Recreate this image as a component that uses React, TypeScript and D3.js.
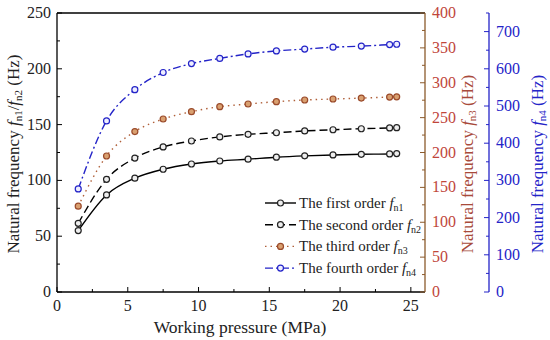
import React from 'react';
import * as d3 from 'd3';

const pressure = [1.5, 3.5, 5.5, 7.5, 9.5, 11.5, 13.5, 15.5, 17.5, 19.5, 21.5, 23.5, 24];
const fn1 = [55, 87, 102, 110, 114.7, 117.4, 119, 120.8, 122, 122.8, 123.4, 123.7, 124];
const fn2 = [61.5, 101, 120, 130, 135.3, 139, 141.3, 142.7, 144.3, 145.4, 146.3, 147, 147.2];
const fn3 = [123, 195, 230, 248, 258.5, 265.7, 269.5, 272.9, 275.3, 276.7, 278, 279.5, 279.8];
const fn4 = [277, 460, 544, 590, 614, 628, 640, 648, 653, 658, 661, 665, 666];

const xTicks = [0, 5, 10, 15, 20, 25];
const leftTicks = [0, 50, 100, 150, 200, 250];
const redTicks = [0, 50, 100, 150, 200, 250, 300, 350, 400];
const blueTicks = [0, 100, 200, 300, 400, 500, 600, 700];

const FONT = 'Liberation Serif, DejaVu Serif, serif';
const RED_AXIS = '#8b5a2b';
const RED = '#c0463a';
const BLUE = '#2424c8';

const L = 57, R = 425, T = 13, B = 292, BLUE_X = 489;

export default function App() {
  const x = d3.scaleLinear().domain([0, 26]).range([L, R]);
  const yL = d3.scaleLinear().domain([0, 250]).range([B, T]);
  const yR = d3.scaleLinear().domain([0, 400]).range([B, T]);
  const yB = d3.scaleLinear().domain([0, 750]).range([B, T]);

  const mk = (ys: number[], s: d3.ScaleLinear<number, number>) =>
    d3.line<number>().x((_, i) => x(pressure[i])).y(d => s(d)).curve(d3.curveMonotoneX)(ys) || '';

  const series = [
    { vals: fn1, s: yL, stroke: '#000', dash: '', mStroke: '#222', mFill: '#eee', label: '1', name: 'The first order ' },
    { vals: fn2, s: yL, stroke: '#000', dash: '8,4', mStroke: '#222', mFill: '#eee', label: '2', name: 'The second order ' },
    { vals: fn3, s: yR, stroke: '#b0603a', dash: '1.5,4', mStroke: '#9a4a2a', mFill: '#d9a070', label: '3', name: 'The third order ' },
    { vals: fn4, s: yB, stroke: BLUE, dash: '8,3,2,3', mStroke: BLUE, mFill: '#eef', label: '4', name: 'The fourth order ' },
  ];

  const minorX = d3.range(0, 26, 2.5);
  const minorL = d3.range(0, 251, 25);
  const minorR = d3.range(0, 401, 25);
  const minorB = d3.range(0, 751, 50);

  return (
    <svg width={550} height={340} style={{ position: 'absolute', left: 0, top: 0, background: '#fff', fontFamily: FONT }}>
      {/* frame */}
      <line x1={L} x2={R} y1={T} y2={T} stroke="#000" strokeWidth={1.3} />
      <line x1={L} x2={R} y1={B} y2={B} stroke="#000" strokeWidth={1.3} />
      <line x1={L} x2={L} y1={T} y2={B} stroke="#000" strokeWidth={1.3} />
      <line x1={R} x2={R} y1={T} y2={B} stroke={RED_AXIS} strokeWidth={1.3} />
      <line x1={BLUE_X} x2={BLUE_X} y1={T} y2={B} stroke={BLUE} strokeWidth={1.3} />

      {/* bottom axis */}
      {minorX.map(v => (
        <line key={'mx' + v} x1={x(v)} x2={x(v)} y1={B} y2={B - (v % 5 === 0 ? 5 : 3)} stroke="#000" strokeWidth={1} />
      ))}
      {xTicks.map(v => (
        <text key={'xt' + v} x={x(v)} y={B + 19} fontSize={16} textAnchor="middle" fill="#222">{v}</text>
      ))}
      <text x={240} y={333} fontSize={17.5} textAnchor="middle" fill="#222">Working pressure (MPa)</text>

      {/* left axis */}
      {minorL.map(v => (
        <line key={'ml' + v} x1={L} x2={L + (v % 50 === 0 ? 5 : 3)} y1={yL(v)} y2={yL(v)} stroke="#000" strokeWidth={1} />
      ))}
      {leftTicks.map(v => (
        <text key={'lt' + v} x={L - 6} y={yL(v) + 5} fontSize={16} textAnchor="end" fill="#222">{v}</text>
      ))}
      <text transform={`translate(19,${154}) rotate(-90)`} fontSize={17} textAnchor="middle" fill="#222">
        Natural frequency <tspan fontStyle="italic">f</tspan><tspan fontSize={11} dy={3}>n1</tspan>
        <tspan dy={-3}>/</tspan><tspan fontStyle="italic">f</tspan><tspan fontSize={11} dy={3}>n2</tspan>
        <tspan dy={-3}> (Hz)</tspan>
      </text>

      {/* red axis */}
      {minorR.map(v => (
        <line key={'mr' + v} x1={R} x2={R - (v % 50 === 0 ? 5 : 3)} y1={yR(v)} y2={yR(v)} stroke={RED_AXIS} strokeWidth={1} />
      ))}
      {redTicks.map(v => (
        <text key={'rt' + v} x={R + 7} y={yR(v) + 5} fontSize={16} textAnchor="start" fill={RED}>{v}</text>
      ))}
      <text transform={`translate(473,${164}) rotate(-90)`} fontSize={17} textAnchor="middle" fill="#a84a3a">
        Natural frequency <tspan fontStyle="italic">f</tspan><tspan fontSize={11} dy={3}>n3</tspan>
        <tspan dy={-3}> (Hz)</tspan>
      </text>

      {/* blue axis */}
      {minorB.map(v => (
        <line key={'mb' + v} x1={BLUE_X} x2={BLUE_X - (v % 100 === 0 ? 5 : 3)} y1={yB(v)} y2={yB(v)} stroke={BLUE} strokeWidth={1} />
      ))}
      {blueTicks.map(v => (
        <text key={'bt' + v} x={BLUE_X + 7} y={yB(v) + 5} fontSize={16} textAnchor="start" fill={BLUE}>{v}</text>
      ))}
      <text transform={`translate(543,${164}) rotate(-90)`} fontSize={17} textAnchor="middle" fill={BLUE}>
        Natural frequency <tspan fontStyle="italic">f</tspan><tspan fontSize={11} dy={3}>n4</tspan>
        <tspan dy={-3}> (Hz)</tspan>
      </text>

      {/* series */}
      {series.map((s, si) => (
        <g key={'s' + si}>
          <path d={mk(s.vals, s.s)} fill="none" stroke={s.stroke} strokeWidth={1.4} strokeDasharray={s.dash} />
          {s.vals.map((v, i) => (
            <circle key={i} cx={x(pressure[i])} cy={s.s(v)} r={3} fill={s.mFill} stroke={s.mStroke} strokeWidth={1.2} />
          ))}
        </g>
      ))}

      {/* legend */}
      {series.map((s, i) => {
        const ly = 203 + i * 21.7;
        return (
          <g key={'lg' + i}>
            <line x1={265} x2={296} y1={ly} y2={ly} stroke={s.stroke} strokeWidth={1.4} strokeDasharray={s.dash} />
            <circle cx={280.5} cy={ly} r={3} fill={s.mFill} stroke={s.mStroke} strokeWidth={1.2} />
            <text x={299} y={ly + 5} fontSize={15} fill="#222">
              {s.name}<tspan fontStyle="italic">f</tspan><tspan fontSize={10} dy={3}>{'n' + s.label}</tspan>
            </text>
          </g>
        );
      })}
    </svg>
  );
}
